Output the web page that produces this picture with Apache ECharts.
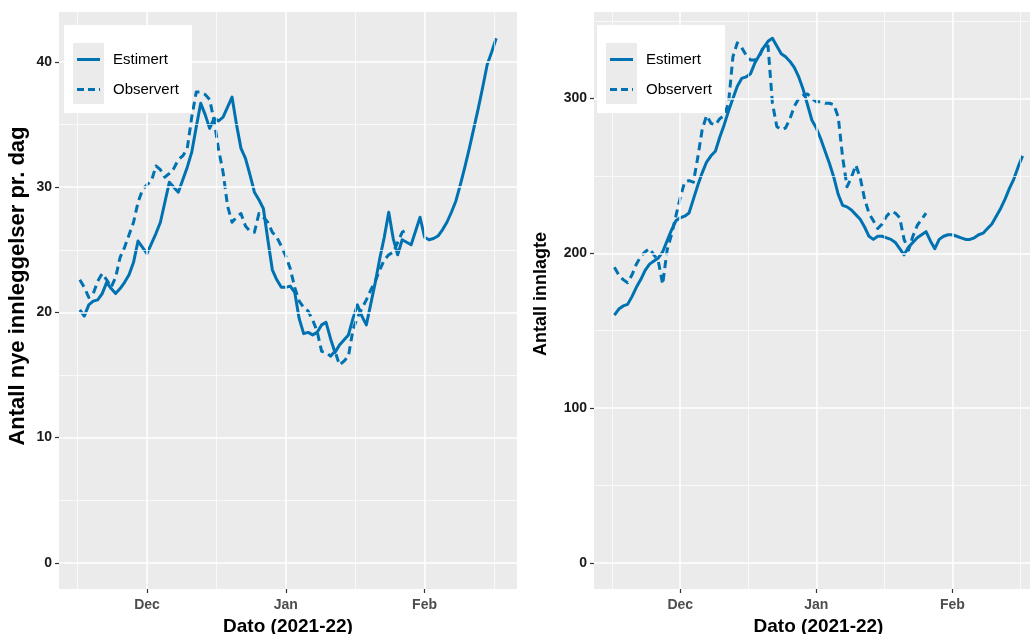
<!DOCTYPE html>
<html>
<head>
<meta charset="utf-8">
<script src="https://cdn.jsdelivr.net/npm/echarts@6/dist/echarts.min.js"></script>
<style>
  html, body { margin: 0; padding: 0; background: #fff; }
  #chart { width: 1030px; height: 634px; }
</style>
</head>
<body>
<div id="chart"></div>
<script>
// Daily series, first value on startDate
const startDate = '2021-11-16';

// New hospital admissions per day
const admEstimert = [
  20.2, 19.7, 20.6, 20.9, 21.0, 21.5, 22.4, 21.9, 21.5, 21.9,
  22.4, 23.0, 24.0, 25.7, 25.2, 24.7, 25.5, 26.3, 27.2, 28.8,
  30.4, 30.0, 29.6, 30.6, 31.6, 32.8, 34.8, 36.7, 35.8, 34.7,
  35.5, 35.3, 35.6, 36.4, 37.2, 35.0, 33.1, 32.3, 31.0, 29.6,
  29.0, 28.3, 25.8, 23.4, 22.6, 22.0, 22.0, 22.1, 21.6, 19.5,
  18.3, 18.4, 18.2, 18.4, 19.0, 19.2, 17.9, 16.8, 17.4, 17.8,
  18.2, 19.5, 20.6, 19.7, 19.0, 20.7, 22.4, 24.3, 26.0, 28.0,
  25.9, 24.6, 25.8, 25.6, 25.4, 26.5, 27.6, 26.0, 25.8, 25.9,
  26.1, 26.6, 27.2, 28.0, 28.9, 30.2, 31.6, 33.1, 34.7, 36.3,
  38.0, 39.8, 40.8, 41.9
];
const admObservert = [
  22.6, 22.0, 21.2, 21.5, 22.5, 23.1, 22.6, 22.0, 22.8, 24.4,
  25.2, 26.2, 27.2, 28.8, 29.8, 30.2, 30.5, 31.7, 31.4, 30.8,
  31.1, 31.5, 32.2, 32.5, 33.1, 35.6, 37.6, 37.6, 37.4, 37.0,
  35.3, 33.0, 31.2, 28.5, 27.2, 27.6, 27.9, 26.9, 26.5, 26.4,
  27.9, 27.6, 27.2, 26.4, 26.0, 25.3, 24.5, 23.5, 22.0, 20.9,
  20.4, 20.1, 19.4, 18.5, 16.9, 16.8, 16.5, 16.9, 15.8, 16.1,
  16.5, 18.6, 19.6, 20.3, 21.0, 21.8, 22.5, 23.4, 24.2, 24.6,
  24.8, 25.6, 26.4, 26.6
];

// Patients in hospital
const bedsEstimert = [
  160, 164, 166, 167, 172, 178, 183, 189, 193, 195,
  197, 201, 208, 215, 221, 223, 224, 226, 235, 244,
  252, 259, 263, 266, 275, 283, 292, 300, 308, 313,
  314, 316, 323, 328, 333, 337, 339, 334, 329, 327,
  324, 320, 314, 306, 296, 286, 281, 274, 266, 258,
  249, 238, 231, 230, 228, 225, 222, 217, 211, 209,
  211, 211, 210, 209, 207, 203, 199, 204, 207, 210,
  212, 214, 208, 203, 209, 211, 212, 212, 211, 210,
  209, 209, 210, 212, 213, 216, 219, 224, 229, 235,
  242, 248, 256, 263
];
const bedsObservert = [
  191, 186, 183, 181, 186, 193, 198, 201, 203, 199,
  195, 180, 202, 212, 224, 236, 246, 247, 246, 262,
  280, 289, 284, 283, 287, 289, 297, 327, 336, 333,
  328, 325, 325, 327, 334, 334, 297, 282, 280, 281,
  287, 295, 300, 302, 303, 300, 298, 298, 297, 297,
  296, 288, 262, 243, 249, 257, 249, 235, 226, 221,
  216, 219, 224, 227, 226, 223, 209, 202, 211, 218,
  222, 226
];

// Axis breaks
const monthDates = ['2021-12-01', '2022-01-01', '2022-02-01'];
const monthLabels = ['Dec', 'Jan', 'Feb'];
const minorDays = [-15.5, 15.5, 46.5, 77.5];
const admTicks = [0, 10, 20, 30, 40];
const admMinor = [5, 15, 25, 35];
const bedsTicks = [0, 100, 200, 300];
const bedsMinor = [50, 150, 250, 350];

const seriesNames = ['Estimert', 'Observert'];
const xTitle = 'Dato (2021-22)';
const admTitle = 'Antall nye innleggelser pr. dag';
const bedsTitle = 'Antall innlagte';

// ---- helpers ----
const DAY = 86400000;
const ORIGIN = Date.UTC(2021, 11, 1);
function dayOf(s) {
  const p = s.split('-').map(Number);
  return (Date.UTC(p[0], p[1] - 1, p[2]) - ORIGIN) / DAY;
}
const d0 = dayOf(startDate);
const toPoints = arr => arr.map((v, i) => [d0 + i, v]);
const monthDays = monthDates.map(dayOf);
const labelOf = {};
monthDays.forEach((d, i) => { labelOf[d] = monthLabels[i]; });

const xFirst = d0, xLast = d0 + admEstimert.length - 1;
const xPad = (xLast - xFirst) * 0.05;
const xMin = xFirst - xPad, xMax = xLast + xPad;

function yRange(arrs) {
  const mx = Math.max(...arrs.map(a => Math.max(...a)));
  return [-mx * 0.05, mx * 1.05];
}
const admR = yRange([admEstimert, admObservert]);
const bedsR = yRange([bedsEstimert, bedsObservert]);

const FONT = "'Liberation Sans', Arial, sans-serif";
const BLUE = '#0072B2';
const GRID_BG = '#EBEBEB';
const hiddenLine = { show: true, onZero: false, lineStyle: { color: 'rgba(0,0,0,0)' } };

function xAxisFor(gridIndex) {
  return {
    type: 'value', gridIndex, min: xMin, max: xMax,
    axisLine: hiddenLine,
    splitLine: { show: false },
    axisTick: { show: true, length: 4, customValues: monthDays,
      lineStyle: { color: '#333333', width: 1.2 } },
    axisLabel: { show: true, customValues: monthDays, margin: 9,
      formatter: v => labelOf[v] || '',
      color: '#4D4D4D', fontWeight: 'bold', fontSize: 14, fontFamily: FONT },
    name: xTitle, nameLocation: 'middle', nameGap: 27,
    nameTextStyle: { color: '#000', fontWeight: 'bold', fontSize: 19, fontFamily: FONT }
  };
}
function yAxisFor(gridIndex, range, ticks) {
  return {
    type: 'value', gridIndex, min: range[0], max: range[1],
    axisLine: hiddenLine,
    splitLine: { show: false },
    axisTick: { show: true, length: 4, customValues: ticks,
      lineStyle: { color: '#333333', width: 1.2 } },
    axisLabel: { show: true, customValues: ticks, margin: 7,
      color: '#1A1A1A', fontWeight: 'bold', fontSize: 14, fontFamily: FONT }
  };
}
// Panel grid lines drawn under the data
function gridSeries(idx, yMajor, yMinor) {
  const major = { color: '#FFFFFF', width: 1.5, type: 'solid' };
  const minor = { color: '#FFFFFF', width: 0.7, type: 'solid' };
  const data = [];
  monthDays.forEach(d => data.push({ xAxis: d, lineStyle: major }));
  minorDays.forEach(d => data.push({ xAxis: d, lineStyle: minor }));
  yMajor.forEach(v => data.push({ yAxis: v, lineStyle: major }));
  yMinor.forEach(v => data.push({ yAxis: v, lineStyle: minor }));
  return {
    type: 'line', xAxisIndex: idx, yAxisIndex: idx, data: [], z: 1, silent: true,
    markLine: { silent: true, symbol: ['none', 'none'], label: { show: false },
      animation: false, data }
  };
}
function lineSeries(idx, name, arr, dashed) {
  return {
    type: 'line', name, xAxisIndex: idx, yAxisIndex: idx,
    data: toPoints(arr), showSymbol: false, symbol: 'none', z: 3,
    lineStyle: { color: BLUE, width: 3, type: dashed ? [8, 5] : 'solid', cap: 'butt', join: 'round' },
    animation: false
  };
}
function legendBox(x0) {
  return [
    { type: 'rect', shape: { x: x0, y: 25, width: 128, height: 88 }, style: { fill: '#FFFFFF' }, z: 10 },
    { type: 'rect', shape: { x: x0 + 9, y: 43, width: 31, height: 61 }, style: { fill: GRID_BG }, z: 11 },
    { type: 'line', shape: { x1: x0 + 13, y1: 59.5, x2: x0 + 36, y2: 59.5 },
      style: { stroke: BLUE, lineWidth: 3 }, z: 12 },
    { type: 'line', shape: { x1: x0 + 13, y1: 89.5, x2: x0 + 36, y2: 89.5 },
      style: { stroke: BLUE, lineWidth: 3, lineDash: [7, 4] }, z: 12 },
    { type: 'text', x: x0 + 49, y: 60, z: 12,
      style: { text: seriesNames[0], fill: '#000', font: '15px ' + FONT, textVerticalAlign: 'middle' } },
    { type: 'text', x: x0 + 49, y: 90, z: 12,
      style: { text: seriesNames[1], fill: '#000', font: '15px ' + FONT, textVerticalAlign: 'middle' } }
  ];
}

const chart = echarts.init(document.getElementById('chart'), null, { renderer: 'canvas' });
chart.setOption({
  backgroundColor: '#FFFFFF',
  animation: false,
  grid: [
    { left: 59, top: 12, width: 458, height: 577, show: true, backgroundColor: GRID_BG, borderWidth: 0,
      outerBoundsMode: 'none', containLabel: false },
    { left: 594, top: 12, width: 449, height: 577, show: true, backgroundColor: GRID_BG, borderWidth: 0,
      outerBoundsMode: 'none', containLabel: false }
  ],
  xAxis: [xAxisFor(0), xAxisFor(1)],
  yAxis: [yAxisFor(0, admR, admTicks), yAxisFor(1, bedsR, bedsTicks)],
  series: [
    gridSeries(0, admTicks, admMinor),
    gridSeries(1, bedsTicks, bedsMinor),
    lineSeries(0, seriesNames[0], admEstimert, false),
    lineSeries(0, seriesNames[1], admObservert, true),
    lineSeries(1, seriesNames[0], bedsEstimert, false),
    lineSeries(1, seriesNames[1], bedsObservert, true)
  ],
  graphic: [
    ...legendBox(64),
    ...legendBox(597),
    { type: 'text', x: 18, y: 286, rotation: Math.PI / 2, z: 12,
      style: { text: admTitle, fill: '#000', font: 'bold 22px ' + FONT,
        textAlign: 'center', textVerticalAlign: 'middle' } },
    { type: 'text', x: 541, y: 294, rotation: Math.PI / 2, z: 12,
      style: { text: bedsTitle, fill: '#000', font: 'bold 18px ' + FONT,
        textAlign: 'center', textVerticalAlign: 'middle' } }
  ]
});
</script>
</body>
</html>
